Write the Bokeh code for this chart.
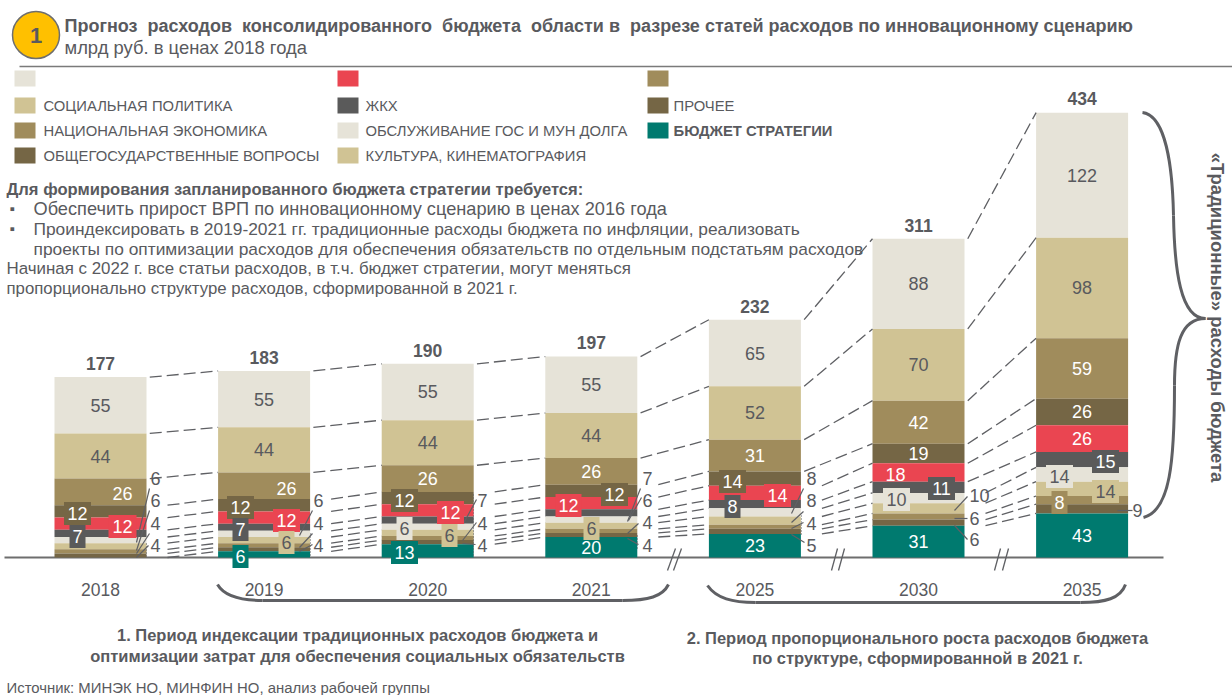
import numpy as np
from bokeh.plotting import figure
from bokeh.models import Range1d, LinearAxis, FixedTicker
from bokeh.core.properties import value
from bokeh.embed import file_html
from bokeh.resources import INLINE

years = ["2018", "2019", "2020", "2021", "2025", "2030", "2035"]
totals = [177, 183, 190, 197, 232, 311, 434]
s_top = [55, 55, 55, 55, 65, 88, 122]
s_social = [44, 44, 44, 44, 52, 70, 98]
s_economy = [26, 26, 26, 26, 31, 42, 59]
s_state = [12, 12, 12, 12, 14, 19, 26]
s_red = [12, 12, 12, 12, 14, 18, 26]
s_housing = [7, 7, 7, 7, 8, 11, 15]
s_debt = [6, 6, 6, 6, 8, 10, 14]
s_culture = [6, 6, 6, 6, 8, 10, 14]
s_brown = [4, 4, 4, 4, 4, 6, 8]
s_other = [4, 4, 4, 4, 5, 6, 9]
s_strategy = [0, 6, 13, 20, 23, 31, 43]

series = [s_top, s_social, s_economy, s_state, s_red, s_housing, s_debt, s_culture, s_brown, s_other, s_strategy]
LIGHT, SAND, BROWN, DARK, RED, GREY, TEAL = "#E6E3D8", "#D0C394", "#A08C5C", "#756645", "#EA4551", "#5A5A5A", "#007A6F"
colors = [LIGHT, SAND, BROWN, DARK, RED, GREY, LIGHT, SAND, BROWN, DARK, TEAL]
white_text = {2, 3, 4, 5, 8, 9, 10}
TXT = "#595A5E"
FONT = value("Liberation Sans")

W, H = 1232, 695
X0, STEP, BASE, K, BW = 100.0, 163.6, 557.0, 1.025, 92.0

p = figure(width=W, height=H, output_backend="svg", toolbar_location=None,
           x_range=Range1d(-X0 / STEP, (W - X0) / STEP),
           y_range=Range1d(-(H - BASE) / K, BASE / K),
           x_axis_type=None, y_axis_type=None, min_border=0, outline_line_color=None,
           background_fill_color="white", border_fill_color="white", margin=(0, 0, 0, 0))
p.grid.visible = False
p.extra_x_ranges["px"] = Range1d(0, W)
p.extra_y_ranges["px"] = Range1d(H, 0)
PX = dict(x_range_name="px", y_range_name="px")

# stacked bars
xs = np.arange(len(years))
matrix = np.array(series, dtype=float)
bottoms = np.cumsum(matrix[::-1], axis=0)[::-1] - matrix
tops = bottoms + matrix
bw = BW / STEP
for s in range(len(series)):
    p.vbar(x=xs, bottom=bottoms[s], top=tops[s], width=bw, fill_color=colors[s], line_color=None)

# x axis drawn at zero, underneath the bars and label boxes
ax = LinearAxis(fixed_location=0, ticker=FixedTicker(ticks=list(range(len(years)))),
                major_label_overrides={i: y for i, y in enumerate(years)},
                major_tick_line_color=None, minor_tick_line_color=None,
                axis_line_color="#6E6E6E", axis_line_width=2, level="underlay",
                major_label_standoff=19, major_label_text_font="Liberation Sans",
                major_label_text_font_size="17.5px", major_label_text_color=TXT,
                bounds=((4 - X0) / STEP, (1163 - X0) / STEP))
p.add_layout(ax, "below")

# dashed connectors between neighbouring bars
edge_layers = [3, 3, 3, 3, 4, 6]     # layers whose connector starts at the bar edge
gap = 21.0 / STEP
for i in range(len(years) - 1):
    for s in range(len(series)):
        start = i + bw / 2 + (0.02 if s < edge_layers[i] else gap)
        p.segment(x0=[start], y0=[tops[s][i]], x1=[i + 1 - bw / 2], y1=[tops[s][i + 1]],
                  line_color="#5F6064", line_width=1.3, line_dash="12 5")

# value labels at segment centres
centred = [(y, s) for y in range(7) for s in (0, 1, 2)] + [(5, 3), (6, 3), (6, 4), (3, 10), (4, 10), (5, 10), (6, 10)]
moved = {  # (year, series): (px x, px y, box width)
    (0, 2): (122, 493, 0), (1, 2): (286, 488, 0),
    (0, 3): (77, 513, 27), (0, 4): (122, 526, 28), (0, 5): (77, 536, 16),
    (1, 3): (240, 507, 27), (1, 4): (286, 520, 27), (1, 5): (240, 529, 16), (1, 7): (286, 542, 16), (1, 10): (240, 556, 16),
    (2, 3): (404, 500, 27), (2, 4): (450, 512, 27), (2, 6): (404, 528, 16), (2, 7): (449, 535, 16), (2, 10): (404, 552, 27),
    (3, 4): (568, 505, 26), (3, 3): (614, 494, 27), (3, 7): (591, 528, 16),
    (4, 3): (732, 481, 27), (4, 4): (777, 495, 27), (4, 5): (732, 506, 16),
    (5, 5): (941, 488, 27), (5, 6): (896, 499, 27), (5, 4): (895, 474, 0),
    (6, 5): (1105, 461, 27), (6, 6): (1059, 476, 27), (6, 7): (1105, 491, 27), (6, 8): (1059, 502, 16),
}
side = {  # (year, series): (px x, px y)
    (0, 6): (155, 478), (0, 7): (155, 500), (0, 8): (155, 523), (0, 9): (155, 545),
    (1, 6): (318, 500), (1, 8): (318, 523), (1, 9): (318, 545),
    (2, 5): (482, 500), (2, 8): (482, 523), (2, 9): (482, 545),
    (3, 5): (647, 478), (3, 6): (647, 500), (3, 8): (647, 522), (3, 9): (647, 545),
    (4, 6): (811, 478), (4, 7): (811, 500), (4, 8): (811, 523), (4, 9): (811, 545),
    (5, 7): (979, 495), (5, 8): (974, 518), (5, 9): (974, 539),
    (6, 9): (1137, 510),
}
leaders = [
    (149, 488, 136, 542), (149, 510, 136, 550), (149, 533, 136, 553), (148, 545, 136, 557),
    (312, 510, 299, 535), (312, 533, 299, 547), (312, 544, 299, 551),
    (476, 499, 463, 523), (476, 522, 462, 540), (475, 544, 462, 543),
    (640, 488, 627, 521), (641, 497, 628, 520), (638, 523, 627, 533), (638, 544, 627, 538),
    (803, 488, 791, 513), (803, 511, 791, 522), (803, 522, 791, 528), (804, 542, 791, 534),
    (967, 496, 954, 510), (967, 518, 954, 518), (967, 539, 954, 525),
    (1117, 510, 1132, 510),
]
p.segment(x0=[l[0] for l in leaders], y0=[l[1] for l in leaders], x1=[l[2] for l in leaders], y1=[l[3] for l in leaders],
          line_color="#5F6064", line_width=1.2, **PX)
dots = [(146, 543, 557), (310, 533, 557), (473, 494, 557), (637, 535, 548), (801, 515, 535)]
p.segment(x0=[d[0] for d in dots], y0=[d[1] for d in dots], x1=[d[0] for d in dots], y1=[d[2] for d in dots],
          line_color="#5F6064", line_width=1, line_dash="1 2", **PX)

for (y, s), (px, py, bwid) in moved.items():
    if bwid:
        p.rect(x=[px], y=[py], width=bwid, height=23, fill_color=colors[s], line_color=None, **PX)
for (y, s) in centred:
    if (y, s) in moved:
        continue
    p.text(x=[y], y=[(tops[s][y] + bottoms[s][y]) / 2], text=[str(series[s][y])], text_align="center", text_baseline="middle",
           text_font=FONT, text_font_size="18px", text_color="white" if s in white_text else TXT)
for (y, s), (px, py, bwid) in moved.items():
    p.text(x=[px], y=[py], text=[str(series[s][y])], text_align="center", text_baseline="middle",
           text_font=FONT, text_font_size="18px", text_color="white" if s in white_text else TXT, **PX)
for (y, s), (px, py) in side.items():
    p.text(x=[px], y=[py], text=[str(series[s][y])], text_align="center", text_baseline="middle",
           text_font=FONT, text_font_size="18px", text_color=TXT, **PX)

# totals above the bars
p.text(x=xs, y=tops[0] + 7, text=[str(t) for t in totals], text_align="center", text_baseline="bottom",
       text_font=FONT, text_font_size="17.5px", text_font_style="bold", text_color=TXT)

def label(x, y, t, size="17px", style="normal", align="left", angle=0.0, color=TXT):
    p.text(x=[x], y=[y], text=[t], text_align=align, text_baseline="middle", angle=angle, text_font=FONT,
           text_font_size=size, text_font_style=style, text_color=color, **PX)

# header
NB = " \u00a0"
p.ellipse(x=[35.5], y=[34.5], width=47, height=47, fill_color="#FFC000", line_color="#6E6E6E", line_width=1.5, **PX)
label(35.5, 35, "1", "22px", "bold", "center")
label(64, 25, f"Прогноз{NB}расходов{NB}консолидированного{NB}бюджета{NB}области в{NB}разрезе статей расходов по инновационному сценарию", "18px", "bold")
label(64, 47, "млрд руб. в ценах 2018 года", "18.4px")
p.segment(x0=[19], y0=[66], x1=[1232], y1=[66], line_color="#7A7A7A", line_width=1.5, **PX)

# legend
legend_columns = [
    (14, 43, [(78, LIGHT, ""), (105, SAND, "СОЦИАЛЬНАЯ ПОЛИТИКА"), (130, BROWN, "НАЦИОНАЛЬНАЯ ЭКОНОМИКА"), (155, DARK, "ОБЩЕГОСУДАРСТВЕННЫЕ ВОПРОСЫ")]),
    (337, 365, [(78, RED, ""), (105, GREY, "ЖКХ"), (130, LIGHT, "ОБСЛУЖИВАНИЕ ГОС И МУН ДОЛГА"), (155, SAND, "КУЛЬТУРА, КИНЕМАТОГРАФИЯ")]),
    (647, 673, [(78, BROWN, ""), (105, DARK, "ПРОЧЕЕ"), (130, TEAL, "БЮДЖЕТ СТРАТЕГИИ")]),
]
for sx, tx, rows in legend_columns:
    for ry, col, name in rows:
        p.rect(x=[sx + 10.5], y=[ry], width=21, height=16, fill_color=col, line_color=None, **PX)
        if name:
            label(tx, ry, name, "14.8px", "bold" if name == "БЮДЖЕТ СТРАТЕГИИ" else "normal")

# commentary
label(6, 189, "Для формирования запланированного бюджета стратегии требуется:", "16.6px", "bold")
label(9, 208, "▪", "15px")
label(9, 228, "▪", "15px")
label(33, 208, "Обеспечить прирост ВРП по инновационному сценарию в ценах 2016 года", "18.2px")
label(33, 228, "Проиндексировать в 2019-2021 гг. традиционные расходы бюджета по инфляции, реализовать", "17.35px")
label(33, 248, "проекты по оптимизации расходов для обеспечения обязательств по отдельным подстатьям расходов", "17.35px")
label(6, 268, "Начиная с 2022 г. все статьи расходов, в т.ч. бюджет стратегии, могут меняться", "16.9px")
label(6, 288, "пропорционально структуре расходов, сформированной в 2021 г.", "16.8px")

# period captions
label(357, 634, "1. Период индексации традиционных расходов бюджета и", "16.5px", "bold", "center")
label(357, 655, "оптимизации затрат для обеспечения социальных обязательств", "16.5px", "bold", "center")
label(917, 637, "2. Период пропорционального роста расходов бюджета", "16.5px", "bold", "center")
label(917, 657, "по структуре, сформированной в 2021 г.", "16.5px", "bold", "center")
label(6, 687, "Источник: МИНЭК НО, МИНФИН НО, анализ рабочей группы", "14.9px")
label(1217, 317, "«Традиционные» расходы бюджета", "18.5px", "bold", "center", angle=-np.pi / 2)

# braces
def bez(pts):
    for a, c1, c2, b in pts:
        p.bezier(x0=[a[0]], y0=[a[1]], x1=[b[0]], y1=[b[1]], cx0=[c1[0]], cy0=[c1[1]], cx1=[c2[0]], cy1=[c2[1]],
                 line_color="#5F6064", line_width=3, **PX)
bez([((217, 584), (224, 596), (240, 600), (262, 600)), ((262, 600), (390, 600), (500, 600), (622, 600)), ((622, 600), (648, 600), (662, 596), (668, 584))])
bez([((707, 585), (716, 598), (732, 602), (755, 602)), ((755, 602), (880, 602), (960, 602), (1080, 602)), ((1080, 602), (1105, 602), (1120, 598), (1125, 584))])
bez([((1142, 112), (1165, 115), (1172, 165), (1173, 215)), ((1173, 215), (1174, 270), (1180, 318), (1205, 318)),
     ((1205, 318), (1180, 318), (1174, 345), (1174, 385)), ((1174, 385), (1174, 460), (1170, 510), (1143, 517))])

# axis break marks
breaks = [(675, 667), (681, 673), (837, 831), (844, 838), (1000, 994), (1008, 1002)]
p.segment(x0=[b[0] for b in breaks], y0=[548] * 6, x1=[b[1] for b in breaks], y1=[570] * 6, line_color="#5F6064", line_width=1.3, **PX)

open("out.html", "w").write(file_html(p, INLINE))
